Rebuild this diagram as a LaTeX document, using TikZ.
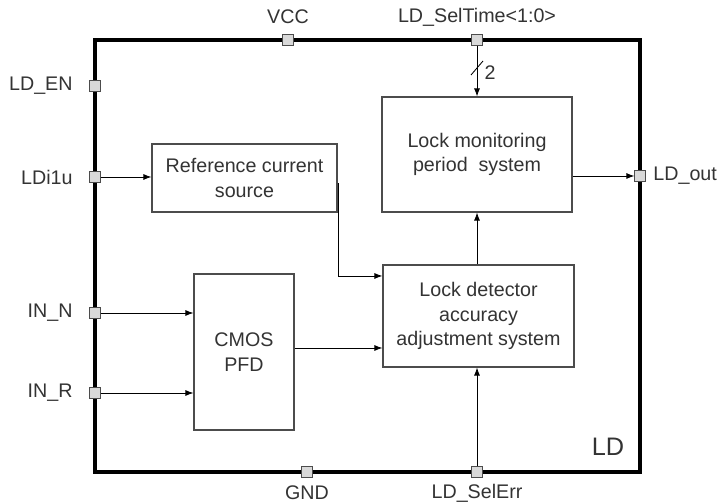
\documentclass[tikz,border=0pt]{standalone}
\usepackage{fontspec}
\setmainfont{Liberation Sans}
\usetikzlibrary{arrows.meta}

\begin{document}
\begin{tikzpicture}[x=0.025cm, y=-0.025cm, >={Latex[length=2mm,width=1.5mm]},
    every path/.style={line width=0.6pt},
    blk/.style={draw=black!70, line width=0.8pt, align=center, text=black!80,
      font=\fontsize{14}{17.5}\selectfont},
    pin/.style={draw=black!70, fill=black!15, line width=0.6pt,
      minimum size=0.26cm, inner sep=0pt},
    lbl/.style={text=black!80, inner sep=0pt, font=\fontsize{14}{17}\selectfont}]
        \useasboundingbox (0,0) rectangle (728,503);
        % outer LD block
        \draw[line width=3pt] (95,40) rectangle (640,472);
        \node[lbl, font=\fontsize{18}{20}\selectfont] (ld) at (608,447) {LD};

        % inner blocks
        \node[blk, minimum width=4.625cm, minimum height=1.7cm] (ref) at (244.5,178) {Reference current\\source};
        \node[blk, minimum width=4.75cm, minimum height=2.875cm] (mon) at (477,154.5) {Lock monitoring\\period\ \ system};
        \node[blk, minimum width=4.775cm, minimum height=2.55cm] (det) at (478.5,316) {Lock detector\\accuracy\\adjustment system};
        \node[blk, minimum width=2.5cm, minimum height=3.9cm] (pfd) at (244,352) {CMOS\\PFD};

        % pins
        \node[pin] (vcc) at (288,40) {};
        \node[pin] (seltime) at (477,40) {};
        \node[pin] (en) at (95,86) {};
        \node[pin] (ldi1u) at (95,177) {};
        \node[pin] (inn) at (95,313) {};
        \node[pin] (inr) at (95,393) {};
        \node[pin] (ldout) at (640,176) {};
        \node[pin] (gnd) at (307,472) {};
        \node[pin] (selerr) at (477,472) {};

        % pin names
        \node[lbl] (vcctxt) at (288,17) {VCC};
        \node[lbl] (seltimetxt) at (477,17) {LD\_SelTime<1:0>};
        \node[lbl, anchor=east] (entxt) at (73,86) {LD\_EN};
        \node[lbl, anchor=east] (ldi1utxt) at (73,177) {LDi1u};
        \node[lbl, anchor=east] (inntxt) at (73,313) {IN\_N};
        \node[lbl, anchor=east] (inrtxt) at (73,393) {IN\_R};
        \node[lbl, anchor=west] (ldouttxt) at (653,176) {LD\_out};
        \node[lbl] (gndtxt) at (307,493) {GND};
        \node[lbl] (selerrtxt) at (477,493) {LD\_SelErr};

        % connections
        \draw[->] (ldi1u) -- (ldi1u -| ref.west);
        \draw[->] (inn) -- (inn -| pfd.west);
        \draw[->] (inr) -- (inr -| pfd.west);
        \draw[->] ([yshift=-0.125cm]ref.east) -- ++(0.5,0) |- ([yshift=1cm]det.west);
        \draw[->] ([yshift=0.1cm]pfd.east) -- ([yshift=0.1cm]pfd.east -| det.west);
        \draw[->] (det.north -| mon.south) -- (mon.south);
        \draw[->] (selerr) -- (selerr |- det.south);
        \draw[->] (seltime) -- (seltime |- mon.north);
        \draw (471,75) -- (483,61);
        \node[lbl] (bus) at (490,73) {2};
        \draw[->] (mon.east |- ldout) -- (ldout);
      \end{tikzpicture}
\end{document}
